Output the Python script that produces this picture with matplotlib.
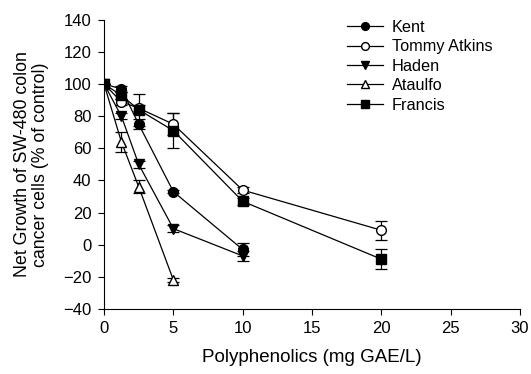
import numpy as np
import matplotlib.pyplot as plt

plt.rcParams['font.family'] = ['Liberation Sans', 'DejaVu Sans']

# Data
conc = [0, 1.25, 2.5, 5, 10, 20]

kent = [100, 97, 75, 33, -3]
kent_err = [0, 2, 3, 1, 4]

tommy = [100, 89, 85, 75, 34, 9]
tommy_err = [0, 2, 2, 7, 2, 6]

haden = [100, 80, 50, 10, -7]
haden_err = [0, 2, 2, 2, 3]

ataulfo = [100, 64, 36, -22]
ataulfo_err = [0, 6, 4, 1]

francis = [100, 93, 84, 71, 27, -9]
francis_err = [0, 2, 10, 11, 2, 6]

series = [
    ('Kent', kent, kent_err, 'o', 'black'),
    ('Tommy Atkins', tommy, tommy_err, 'o', 'white'),
    ('Haden', haden, haden_err, 'v', 'black'),
    ('Ataulfo', ataulfo, ataulfo_err, '^', 'white'),
    ('Francis', francis, francis_err, 's', 'black'),
]

fig = plt.figure(figsize=(5.31, 3.74), dpi=100)
ax = fig.add_axes([0.196, 0.174, 0.783, 0.773])

for name, y, err, m, fc in series:
    x = conc[:len(y)]
    ax.errorbar(x, y, yerr=err, marker=m, markersize=7, mfc=fc, mec='black',
                color='black', lw=0.9, elinewidth=0.9, capsize=4, capthick=0.9,
                label=name)

ax.set_xlim(0, 30)
ax.set_ylim(-40, 140)
ax.set_xticks(np.arange(0, 31, 5))
ax.set_yticks(np.arange(-40, 141, 20))
ax.spines['top'].set_visible(False)
ax.spines['right'].set_visible(False)
ax.tick_params(direction='out', labelsize=12, length=4, pad=5)
ax.set_xlabel('Polyphenolics (mg GAE/L)', fontsize=13.5, labelpad=9)
ax.set_ylabel('Net Growth of SW-480 colon\ncancer cells (% of control)', fontsize=12.8,
              labelpad=10, linespacing=1.1)

handles, labels = ax.get_legend_handles_labels()
handles = [h[0] for h in handles]
ax.legend(handles, labels, loc='upper left', bbox_to_anchor=(0.55, 1.05), frameon=False,
          fontsize=11.7, handlelength=2.2, labelspacing=0.27, handletextpad=0.55,
          markerscale=0.8)

plt.savefig('out.png', dpi=100)
